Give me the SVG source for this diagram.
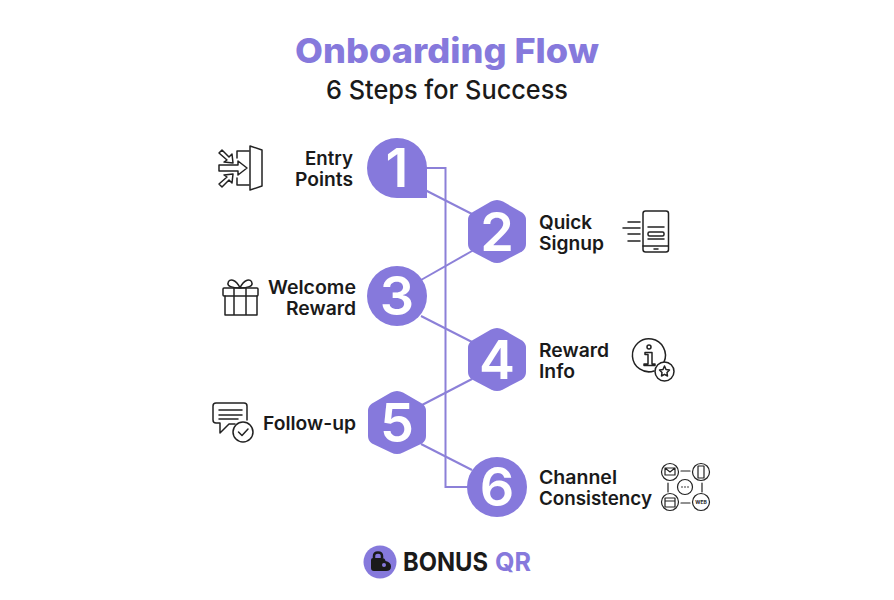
<svg xmlns="http://www.w3.org/2000/svg" width="894" height="600" viewBox="0 0 894 600">
<style>
text{font-family:"Inter","Open Sans","Liberation Sans",sans-serif}
.lab{font-size:18.500px;font-weight:600;fill:#1a1a1a}
.num{font-size:54px;font-weight:600;fill:#fff;text-anchor:middle}
.shape{fill:#8679dc}
.ln{fill:none;stroke:#8c80d8;stroke-width:2}
.ic{fill:none;stroke:#222;stroke-width:1.500;stroke-linecap:round;stroke-linejoin:round}
.r{text-anchor:end}
</style>
<rect width="894" height="600" fill="#fff"/>
<text id="title" x="447" y="63" text-anchor="middle" font-size="34.500" font-weight="800" fill="#8679dc" textLength="304" lengthAdjust="spacingAndGlyphs">Onboarding Flow</text>
<text id="subtitle" x="447" y="99" text-anchor="middle" font-size="26" font-weight="500" fill="#1a1a1a" textLength="242" lengthAdjust="spacingAndGlyphs">6 Steps for Success</text>
<g id="connectors" class="ln">
<path d="M425 168H445.500V487H472"/>
<path d="M425 190L472 214"/>
<path d="M472 251L421 280"/>
<path d="M421 316L472 342"/>
<path d="M472 379L422 405"/>
<path d="M421 444L472 470"/>
</g>
<g id="node1">
<path class="shape" d="M427 198H397A30 30 0 1 1 427 168Z"/>
<text class="num" x="397" y="187">1</text>
<text class="lab r" x="353" y="165" textLength="48" lengthAdjust="spacingAndGlyphs">Entry</text>
<text class="lab r" x="353" y="186" textLength="58" lengthAdjust="spacingAndGlyphs">Points</text>
<g class="ic"><path d="M250 146L262 150V186L250 190Z"/><path d="M249 151H237V158M237 178V185H249"/><path d="M219 165H238V161L247 168L238 175V171H219Z"/><path d="M219 153L222 150L229 157L232 154L233 163L224 162L227 160Z"/><path d="M219 184L222 187L229 180L232 183L233 174L224 175L227 177Z"/></g>
</g>
<g id="node2">
<path class="shape" d="M491 201.500Q497 198.500 503 201.500L522 212.500Q526 215 526 220V244Q526 249 522 251.500L503 261.500Q497 264.500 491 261.500L472 251.500Q468 249 468 244V220Q468 215 472 212.500Z"/>
<text class="num" x="497" y="251">2</text>
<text class="lab" x="539" y="229" textLength="53" lengthAdjust="spacingAndGlyphs">Quick</text>
<text class="lab" x="539" y="250" textLength="65" lengthAdjust="spacingAndGlyphs">Signup</text>
<g class="ic"><rect x="643" y="211" width="25.500" height="41" rx="2.500"/><path d="M643 246H668M654 249H658M648 227H664M648 239H664"/><rect x="648" y="232" width="16" height="4" rx="1.500"/><path d="M628 222H640M623 228H640M628 234H640M628 241H640"/></g>
</g>
<g id="node3">
<circle class="shape" cx="397" cy="296" r="30"/>
<text class="num" x="397" y="315">3</text>
<text class="lab r" x="356" y="294" textLength="88" lengthAdjust="spacingAndGlyphs">Welcome</text>
<text class="lab r" x="356" y="315" textLength="70" lengthAdjust="spacingAndGlyphs">Reward</text>
<g class="ic"><rect x="223" y="288" width="35" height="8" rx="1"/><path d="M225 296V315H257V296M234 288V315M246 288V315"/><path d="M240 288C232 288 227 286 228 283C229 278 236 279 240 288C244 279 251 278 252 283C253 286 248 288 240 288Z"/></g>
</g>
<g id="node4">
<path class="shape" d="M491 329.500Q497 326.500 503 329.500L522 340.500Q526 343 526 348V372Q526 377 522 379.500L503 389.500Q497 392.500 491 389.500L472 379.500Q468 377 468 372V348Q468 343 472 340.500Z"/>
<text class="num" x="497" y="379">4</text>
<text class="lab" x="539" y="357" textLength="70" lengthAdjust="spacingAndGlyphs">Reward</text>
<text class="lab" x="539" y="378" textLength="36" lengthAdjust="spacingAndGlyphs">Info</text>
<g class="ic"><path d="M664 362A16.500 16.500 0 1 0 654 371"/><circle cx="664.500" cy="371.500" r="9.500"/><path d="M664.500 366L666 369.500L669.500 370L667 372.500L667.500 376L664.500 374.300L661.500 376L662 372.500L659.500 370L663 369.500Z"/><circle cx="649" cy="347" r="2"/><path d="M645 352.500H652V364H655V365.500H644V364H648V354.500H645Z"/></g>
</g>
<g id="node5">
<path class="shape" d="M391 392.500Q397 389.500 403 392.500L422 403.500Q426 406 426 411V436Q426 441 422 443.500L403 452.500Q397 455.500 391 452.500L372 443.500Q368 441 368 436V411Q368 406 372 403.500Z"/>
<text class="num" x="397" y="442">5</text>
<text class="lab r" x="356" y="430" textLength="93" lengthAdjust="spacingAndGlyphs">Follow-up</text>
<g class="ic"><path d="M247 420V406Q247 403 244 403H216Q213 403 213 406V420Q213 423 216 423H220V433L229 424H235"/><path d="M219 410H242M219 415H242M219 419H238"/><circle cx="243" cy="432" r="10"/><path d="M238.500 432L242 435.500L248 429"/></g>
</g>
<g id="node6">
<circle class="shape" cx="497" cy="487" r="30"/>
<text class="num" x="497" y="506">6</text>
<text class="lab" x="539" y="484" textLength="78" lengthAdjust="spacingAndGlyphs">Channel</text>
<text class="lab" x="539" y="505" textLength="113" lengthAdjust="spacingAndGlyphs">Consistency</text>
<g class="ic" style="stroke-width:1.200"><circle cx="670" cy="472" r="8.500"/><circle cx="701" cy="472" r="8.500"/><circle cx="670" cy="502" r="8.500"/><circle cx="701" cy="502" r="8.500"/><circle cx="685" cy="487" r="7.500"/><path d="M681 471H690M681 503H690M668 483V492M702 483V492M665 468H675V475H665ZM665 468L670 472L675 468M698 466H704V478H698ZM665 498H675V507H665ZM665 501H675"/></g>
<g fill="#222"><circle cx="682" cy="487" r=".8"/><circle cx="685" cy="487" r=".8"/><circle cx="688" cy="487" r=".8"/></g>
<text x="701" y="504" font-size="5" font-weight="700" fill="#222" text-anchor="middle">WEB</text>
</g>
<g id="logo">
<circle cx="380" cy="562" r="16.500" fill="#8679dc"/>
<path d="M371 560Q371 558 373 558H382Q385 558 385.500 561Q391 562 391 566.500Q391 571 386 571H374Q371 571 371 568Z" fill="#1a1a1a"/>
<path d="M374 558V556Q374 552.500 378 552.500Q382 552.500 382 556V558" fill="none" stroke="#1a1a1a" stroke-width="2.500"/>
<circle cx="384" cy="565" r="2" fill="#8679dc"/>
<text x="403" y="571" font-size="26" font-weight="700" fill="#1a1a1a" textLength="85" lengthAdjust="spacingAndGlyphs">BONUS</text>
<text x="495" y="571" font-size="26" font-weight="700" fill="#8679dc" textLength="36" lengthAdjust="spacingAndGlyphs">QR</text>
</g>
</svg>
